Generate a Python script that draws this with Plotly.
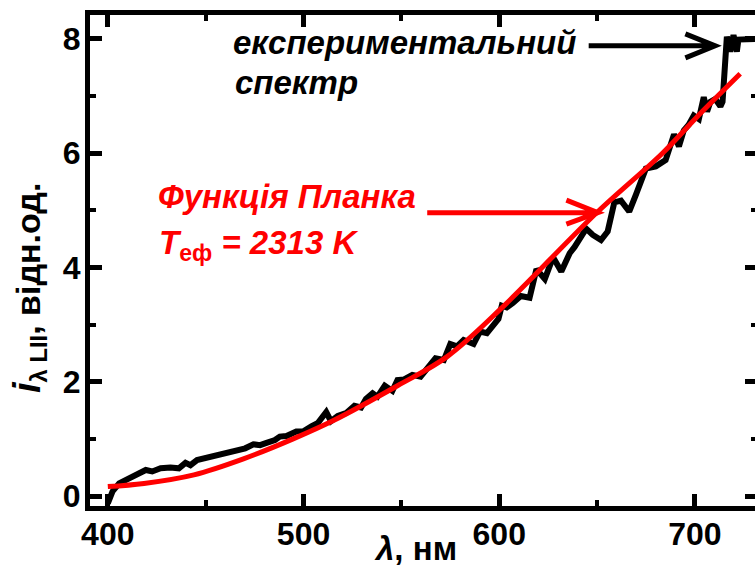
import plotly.graph_objects as go

# Experimental spectrum (black)
wl_exp = [400.0, 402.4, 405.8, 410.0, 415.0, 419.4, 422.7, 427.0, 432.0, 436.3, 439.7, 442.2,
          445.6, 449.0, 452.4, 456.6, 460.8, 465.9, 470.2, 474.4, 477.8, 481.1, 485.4, 487.9,
          491.3, 496.3, 499.7, 504.0, 507.4, 511.6, 514.0, 517.5, 521.7, 526.0, 529.4, 531.9,
          535.3, 537.8, 541.5, 545.4, 548.0, 551.4, 555.6, 559.8, 564.0, 567.4, 571.7, 575.0,
          578.4, 581.8, 586.9, 590.2, 593.7, 597.0, 599.6, 601.3, 603.8, 607.0, 611.0, 615.5,
          619.0, 623.3, 627.5, 631.7, 636.0, 638.5, 642.7, 644.4, 647.8, 652.0, 655.4, 658.8,
          662.2, 666.4, 669.8, 672.3, 674.9, 680.0, 685.0, 689.3, 691.8, 694.3, 696.8, 699.4,
          702.0, 704.5, 706.2, 707.9, 710.4, 713.0, 714.1, 716.3, 718.0, 719.7, 721.4, 722.2,
          725.0, 732.0]
int_exp = [-0.13, 0.08, 0.22, 0.29, 0.385, 0.455, 0.43, 0.485, 0.50, 0.485, 0.58, 0.54,
           0.63, 0.66, 0.69, 0.72, 0.76, 0.82, 0.835, 0.905, 0.89, 0.93, 0.98, 1.04,
           1.05, 1.13, 1.13, 1.22, 1.28, 1.47, 1.31, 1.40, 1.45, 1.58, 1.55, 1.70,
           1.80, 1.74, 1.93, 1.84, 2.03, 2.04, 2.12, 2.09, 2.26, 2.41, 2.38, 2.66,
           2.62, 2.73, 2.66, 2.88, 2.85, 3.00, 3.10, 3.33, 3.30, 3.38, 3.50, 3.47,
           3.97, 3.80, 4.18, 3.93, 4.25, 4.36, 4.58, 4.68, 4.57, 4.48, 4.63, 5.14,
           5.17, 4.98, 5.27, 5.52, 5.73, 5.77, 5.88, 6.33, 6.12, 6.40, 6.50, 6.66,
           6.60, 6.98, 6.73, 6.90, 6.95, 6.82, 6.90, 8.04, 7.78, 8.07, 7.78, 7.99,
           8.00, 8.00]

# Planck function fit (red)
wl_planck = [400.0, 418.5, 444.0, 469.3, 494.7, 515.8, 548.0, 573.4, 602.1, 649.5, 683.4, 700.3, 723.1]
int_planck = [0.165, 0.22, 0.37, 0.65, 1.0, 1.33, 1.93, 2.44, 3.32, 4.95, 6.0, 6.61, 7.39]

x_ticks = [400, 500, 600, 700]
y_ticks = [0, 2, 4, 6, 8]

FONT = "Liberation Sans, Arial, sans-serif"
FIG_W = 762  # slightly wider than the window so the mirrored right axis line falls off-page
L_MARGIN = 90

fig = go.Figure()
fig.add_trace(go.Scatter(x=wl_exp, y=int_exp, mode="lines",
                         line=dict(color="black", width=6), showlegend=False))
fig.add_trace(go.Scatter(x=wl_planck, y=int_planck, mode="lines",
                         line=dict(color="#ff0000", width=5, shape="spline"), showlegend=False))

axis_common = dict(
    showgrid=False, zeroline=False, showline=True, linewidth=5, linecolor="black",
    mirror="ticks", ticks="inside", ticklen=12, tickwidth=5, tickcolor="black",
    tickfont=dict(family=FONT, size=32, color="black", weight="bold"),
)
fig.update_xaxes(range=[390.9, 731.7], tickvals=x_ticks, ticktext=[str(v) for v in x_ticks],
                 ticklabelstandoff=-4,
                 minor=dict(dtick=50, tick0=400, ticks="inside", ticklen=6, tickwidth=4, tickcolor="black"),
                 **axis_common)
fig.update_yaxes(range=[-0.175, 8.42], tickvals=y_ticks, ticktext=[str(v) for v in y_ticks],
                 ticklabelstandoff=-2,
                 minor=dict(dtick=1, tick0=0, ticks="inside", ticklen=6, tickwidth=4, tickcolor="black"),
                 **axis_common)

# Arrows (annotation graphics)
black_arrow = "M 645.7,7.88 L 710.3,7.88 M 695.1,8.09 L 710.3,7.88 L 695.1,7.67"
red_arrow = "M 563.2,4.96 L 650.4,4.96 M 634.3,5.18 L 650.4,4.96 L 634.3,4.76"
fig.add_shape(type="path", path=black_arrow, xref="x", yref="y",
              line=dict(color="black", width=5))
fig.add_shape(type="path", path=red_arrow, xref="x", yref="y",
              line=dict(color="#ff0000", width=5))

ann_font_b = dict(family=FONT, size=33, color="black")
ann_font_r = dict(family=FONT, size=33, color="#ff0000")
fig.add_annotation(x=462.7, y=7.93, xref="x", yref="y", xanchor="left", yanchor="middle",
                   text="<b><i>експериментальний</i></b>", showarrow=False, font=ann_font_b)
fig.add_annotation(x=464.0, y=7.24, xref="x", yref="y", xanchor="left", yanchor="middle",
                   text="<b><i>спектр</i></b>", showarrow=False, font=ann_font_b)
fig.add_annotation(x=424.6, y=5.24, xref="x", yref="y", xanchor="left", yanchor="middle",
                   text="<b><i>Функція Планка</i></b>", showarrow=False, font=ann_font_r)
fig.add_annotation(x=425.1, y=4.40, xref="x", yref="y", xanchor="left", yanchor="middle",
                   text="<b><i>T</i><sub>еф</sub><i> = 2313 K</i></b>", showarrow=False, font=ann_font_r)

plot_w = FIG_W - L_MARGIN
# Axis titles
fig.add_annotation(x=(28 - L_MARGIN) / plot_w, y=0.445, xref="paper", yref="paper",
                   xanchor="center", yanchor="middle", textangle=-90, showarrow=False,
                   text="<b><i><span style='font-size:38px'>i</span></i><sub>λ LII</sub>, відн.од.</b>",
                   font=dict(family=FONT, size=34, color="black"))
fig.add_annotation(x=(418 - L_MARGIN) / plot_w, y=(506 - 569) / 491, xref="paper", yref="paper",
                   xanchor="center", yanchor="bottom",
                   showarrow=False, text="<b><i>λ</i>, нм</b>",
                   font=dict(family=FONT, size=33, color="black"))

fig.update_layout(width=FIG_W, height=569, margin=dict(l=L_MARGIN, r=0, t=15, b=63, pad=0),
                  plot_bgcolor="white", paper_bgcolor="white", showlegend=False)

fig.write_html("out.html", config={"displayModeBar": False},
               post_script="document.body.style.margin='0px';document.body.style.overflow='hidden';")
